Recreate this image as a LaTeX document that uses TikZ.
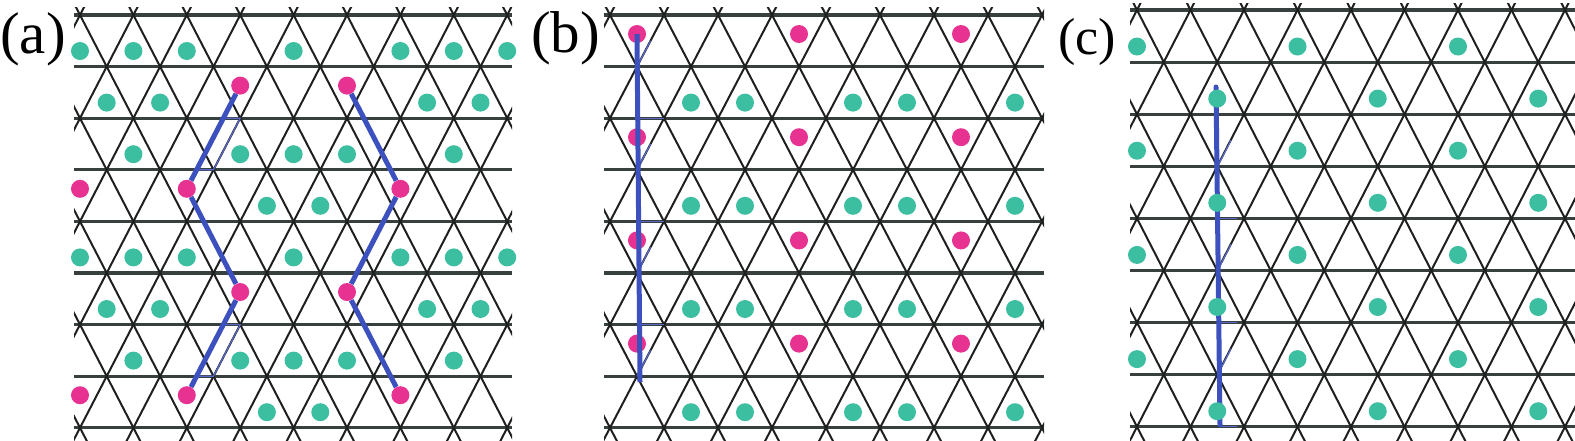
\documentclass[tikz,border=0pt]{standalone}
\usepackage{fontspec}
\setmainfont{Liberation Serif}
\definecolor{latPink}{RGB}{232,50,145}
\definecolor{latTeal}{RGB}{60,190,160}
\definecolor{latBlue}{RGB}{60,80,190}
\definecolor{latInk}{RGB}{30,32,32}
\definecolor{latRule}{RGB}{55,64,62}
\tikzset{
  hline/.style={draw=latRule, line width=3.2pt},
  dline/.style={draw=latInk, line width=2pt},
  latdot/.style={circle, inner sep=0pt, minimum size=18pt},
  pinkdot/.style={latdot, fill=latPink},
  tealdot/.style={latdot, fill=latTeal},
  chain/.style={draw=latBlue, line width=5pt},
  trace/.style={draw=latBlue!85, line width=1.2pt},
  tag/.style={inner sep=0pt, anchor=base west},
}
% x0, y0, a, h, xmin, xmax, ymin, ymax
\newcommand{\trilattice}[8]{%
  \begin{scope}
    \clip (#5,#7) rectangle (#6,#8);
    \foreach \k in {0,...,8}
      \draw[hline] (#5,{#2+\k*#4}) -- (#6,{#2+\k*#4});
    \foreach \j in {-6,...,14} {
      \draw[dline] ({#1+\j*#3-5*#3},{#2-10*#4}) -- ({#1+\j*#3+5*#3},{#2+10*#4});
      \draw[dline] ({#1+\j*#3+5*#3},{#2-10*#4}) -- ({#1+\j*#3-5*#3},{#2+10*#4});
    }
  \end{scope}}

\begin{document}
\begin{tikzpicture}[x=1pt,y=-1pt]
  \useasboundingbox (0,0) rectangle (1575,440);

  % (a)
  \node[tag,font=\fontsize{59}{60}\selectfont] (la) at (0,53) {(a)};
  \trilattice{80}{15}{53.4}{51.6}{74}{512}{7}{440}
  \draw[trace] (222.4,118.2) -- (240.2,118.2) -- (213.5,169.8) -- (195.7,169.8);
  \draw[trace] (222.4,324.6) -- (240.2,324.6) -- (213.5,376.2) -- (195.7,376.2);
  \foreach \k in {0,4} \foreach \j in {0,1,2,4,6,7,8}
    \node[tealdot] (ta-\k-\j) at ({80+\j*53.4},{51+\k*51.6}) {};
  \foreach \k in {1,5} \foreach \j in {0,1,6,7}
    \node[tealdot] (ta-\k-\j) at ({106.7+\j*53.4},{51+\k*51.6}) {};
  \foreach \k in {2,6} \foreach \j in {1,3,4,5,7}
    \node[tealdot] (ta-\k-\j) at ({80+\j*53.4},{51+\k*51.6}) {};
  \foreach \k in {3,7} \foreach \j in {3,4}
    \node[tealdot] (ta-\k-\j) at ({106.7+\j*53.4},{51+\k*51.6}) {};
  \node[pinkdot] (pa1) at (240.2,85.6) {};
  \node[pinkdot] (pa2) at (186.8,188.8) {};
  \node[pinkdot] (pa3) at (240.2,292) {};
  \node[pinkdot] (pa4) at (186.8,395.2) {};
  \node[pinkdot] (pa5) at (347,85.6) {};
  \node[pinkdot] (pa6) at (400.4,188.8) {};
  \node[pinkdot] (pa7) at (347,292) {};
  \node[pinkdot] (pa8) at (400.4,395.2) {};
  \node[pinkdot] (pa0) at (80,188.8) {};
  \node[pinkdot] (pa9) at (80,395.2) {};
  \draw[chain] (pa1) -- (pa2) -- (pa3) -- (pa4);
  \draw[chain] (pa5) -- (pa6) -- (pa7) -- (pa8);

  % (b)
  \node[tag,font=\fontsize{59}{60}\selectfont] (lb) at (531,52) {(b)};
  \trilattice{610}{15}{54}{51.6}{604}{1044}{7}{440}
  \foreach \k in {2,4,6}
    \draw[trace] (637,{15+\k*51.6}) -- (664,{15+\k*51.6});
  \foreach \k in {1,3,5,7}
    \draw[trace] (637,{15+\k*51.6}) -- (650.5,{15+\k*51.6-25.8});
  \foreach \k in {0,2,4,6} \foreach \j in {0,3,6}
    \node[pinkdot] (pb-\k-\j) at ({637+\j*54},{34+\k*51.6}) {};
  \foreach \k in {1,3,5,7} \foreach \j in {1,2,4,5,7}
    \node[tealdot] (tb-\k-\j) at ({637+\j*54},{51+\k*51.6}) {};
  \coordinate (bend) at (640,382);
  \draw[chain] (pb-0-0.center) -- (bend);

  % (c)
  \node[tag,font=\fontsize{52}{54}\selectfont] (lc) at (1058,54) {(c)};
  \trilattice{1137}{10}{53.5}{52.1}{1130}{1575}{3}{440}
  \foreach \k in {4,6,8}
    \draw[trace] (1218,{10+\k*52.1}) -- (1237,{10+\k*52.1});
  \foreach \k in {3,5,7}
    \draw[trace] (1217.5,{10+\k*52.1}) -- (1231,{10+\k*52.1-26});
  \coordinate (ctop) at (1216,87);
  \coordinate (cbot) at (1220,425);
  \draw[chain,line cap=round] (ctop) -- (cbot);
  \foreach \k in {0,2,4,6} \foreach \j in {0,3,6}
    \node[tealdot] (tc-\k-\j) at ({1137+\j*53.5},{46.5+\k*52.1}) {};
  \foreach \k in {1,3,5,7} \foreach \j in {1,4,7}
    \node[tealdot] (tc-\k-\j) at ({1163.75+\j*53.5},{46.5+\k*52.1}) {};
\end{tikzpicture}
\end{document}
